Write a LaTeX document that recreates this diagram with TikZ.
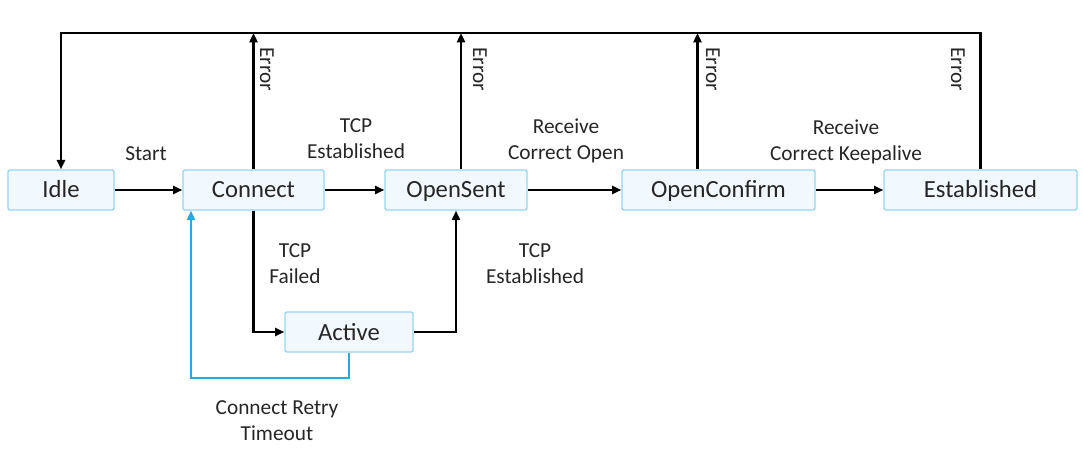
\documentclass[tikz,border=0pt]{standalone}
\usepackage{fontspec}
\setmainfont{Carlito}
\usepackage{tikz}
\usetikzlibrary{arrows.meta}

\definecolor{BoxFill}{RGB}{241,249,254}
\definecolor{BoxLine}{RGB}{150,212,242}
\definecolor{RetryBlue}{RGB}{38,168,224}
\definecolor{TextGray}{RGB}{38,38,38}

\begin{document}
\begin{tikzpicture}[
		x=0.75pt, y=-0.75pt,
		-{Triangle[length=7pt, width=6pt]},
		line width=1.8pt,
		StateBox/.style={draw=BoxLine, fill=BoxFill, line width=1pt, rounded corners=1.5pt,
			minimum height=30pt, inner sep=0pt, text=TextGray,
			text height=14pt, text depth=2pt,
			font=\fontsize{18.5}{22}\selectfont},
		Lbl/.style={align=center, text=TextGray, font=\fontsize{16}{19.5}\selectfont},
		ErrLbl/.style={Lbl, rotate=-90},
		]
		\useasboundingbox (0,0) rectangle (1083,453);
		% states
		\node [StateBox, minimum width=79.5pt] (Idle) at (61,190) {Idle};
		\node [StateBox, minimum width=105.75pt] (Connect) at (253.5,190) {Connect};
		\node [StateBox, minimum width=106.5pt] (OpenSent) at (456,190) {OpenSent};
		\node [StateBox, minimum width=144.75pt] (OpenConfirm) at (718.5,190) {OpenConfirm};
		\node [StateBox, minimum width=144.75pt] (Established) at (980.5,190) {Established};
		\node [StateBox, minimum width=96pt] (Active) at (349,332) {Active};
		
		\coordinate (TopL) at (61,33);
		\coordinate (Retry) at (191,378);
		
		% main transitions
		\draw (Idle) -- (Connect);
		\draw (Connect) -- (OpenSent);
		\draw (OpenSent) -- (OpenConfirm);
		\draw (OpenConfirm) -- (Established);
		\draw (Connect.south) |- (Active.west);
		\draw (Active.east) -| (OpenSent.south);
		\draw [RetryBlue, line width=1.4pt] (Active.south) |- (Retry) -- (Retry |- Connect.south);
		
		% errors
		\draw (Connect.north) -- (Connect.north |- TopL);
		\draw ([xshift=3.75pt]OpenSent.north) -- ([xshift=3.75pt]OpenSent.north |- TopL);
		\draw ([xshift=-15.75pt]OpenConfirm.north) -- ([xshift=-15.75pt]OpenConfirm.north |- TopL);
		\draw (Established.north) -- (Established.north |- TopL) -- (TopL) -- (Idle.north);
		
		% labels
		\node [Lbl] (start) at (146,154) {Start};
		\node [Lbl] (tcpest) at (356,139) {TCP\\Established};
		\node [Lbl] (rcvopen) at (566,141) {Receive\\Correct Open};
		\node [Lbl] (rcvkeep) at (846,142) {Receive\\Correct Keepalive};
		\node [Lbl] (tcpfail) at (295,264) {TCP\\Failed};
		\node [Lbl] (tcpest2) at (535,264) {TCP\\Established};
		\node [Lbl] (retrylbl) at (277,421) {Connect Retry\\Timeout};
		\node [ErrLbl] (err1) at (267,69) {Error};
		\node [ErrLbl] (err2) at (480,69) {Error};
		\node [ErrLbl] (err3) at (713,69) {Error};
		\node [ErrLbl] (err4) at (958,69) {Error};
		
		\end{tikzpicture}
\end{document}
